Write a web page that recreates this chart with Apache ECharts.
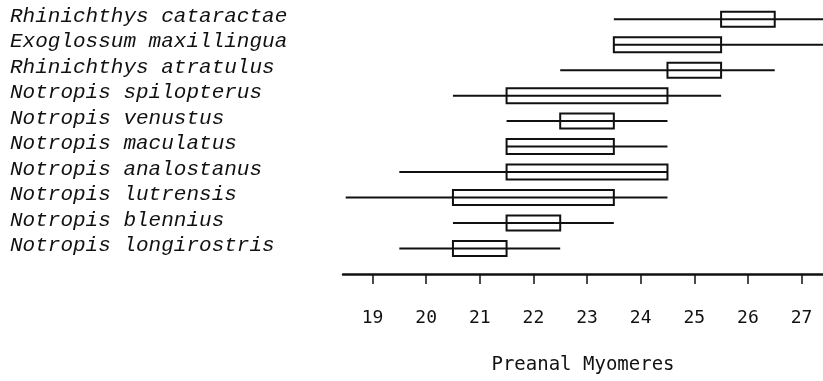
<!DOCTYPE html>
<html>
<head>
<meta charset="utf-8">
<script src="https://cdn.jsdelivr.net/npm/echarts@6/dist/echarts.min.js"></script>
<style>
html,body{margin:0;padding:0;background:#fff;}
#chart{width:823px;height:381px;}
</style>
</head>
<body>
<div id="chart"></div>
<script>
// Species, top to bottom
const species = [
  'Rhinichthys cataractae',
  'Exoglossum maxillingua',
  'Rhinichthys atratulus',
  'Notropis spilopterus',
  'Notropis venustus',
  'Notropis maculatus',
  'Notropis analostanus',
  'Notropis lutrensis',
  'Notropis blennius',
  'Notropis longirostris'
];
const rangeMin = [23.5, 23.5, 22.5, 20.5, 21.5, 21.5, 19.5, 18.5, 20.5, 19.5];
const boxLow   = [25.5, 23.5, 24.5, 21.5, 22.5, 21.5, 21.5, 20.5, 21.5, 20.5];
const boxHigh  = [26.5, 25.5, 25.5, 24.5, 23.5, 23.5, 24.5, 23.5, 22.5, 21.5];
const rangeMax = [28.0, 28.0, 26.5, 25.5, 24.5, 24.5, 24.5, 24.5, 23.5, 22.5];
const tickValues = [19, 20, 21, 22, 23, 24, 25, 26, 27];

// category axis: empty slot at bottom, then species bottom-to-top
const yCats = [''].concat(species.slice().reverse());
const n = species.length;
const seriesData = species.map((s, i) => [n - i, rangeMin[i], boxLow[i], boxHigh[i], rangeMax[i]]);

const chart = echarts.init(document.getElementById('chart'), null, {renderer: 'canvas'});
chart.setOption({
  animation: false,
  grid: {left: 343, right: 0, top: 19.2, bottom: 107, containLabel: false},
  xAxis: {
    type: 'value',
    min: 18.45,
    max: 27.4,
    name: 'Preanal Myomeres',
    nameLocation: 'middle',
    nameGap: 82,
    nameTextStyle: {fontFamily: 'DejaVu Sans Mono', fontSize: 19, color: '#111'},
    axisLine: {show: true, lineStyle: {color: '#111', width: 2.5}},
    axisTick: {show: true, length: 10, lineStyle: {color: '#111', width: 1.5}, customValues: tickValues},
    axisLabel: {customValues: tickValues, margin: 35, fontFamily: 'DejaVu Sans Mono', fontSize: 18, color: '#111'},
    splitLine: {show: false}
  },
  yAxis: {
    type: 'category',
    data: yCats,
    boundaryGap: false,
    axisLine: {show: false},
    axisTick: {show: false},
    splitLine: {show: false},
    axisLabel: {
      interval: 0,
      hideOverlap: false,
      align: 'left',
      verticalAlign: 'bottom',
      lineHeight: 6,
      margin: 333,
      fontFamily: 'Liberation Mono',
      fontStyle: 'italic',
      fontSize: 21,
      color: '#111'
    }
  },
  series: [{
    type: 'custom',
    clip: false,
    data: seriesData,
    encode: {x: [1, 2, 3, 4], y: 0},
    renderItem: function (params, api) {
      const c = api.value(0);
      const pMin = api.coord([api.value(1), c]);
      const pLo = api.coord([api.value(2), c]);
      const pHi = api.coord([api.value(3), c]);
      const pMax = api.coord([api.value(4), c]);
      const h = 15;
      return {
        type: 'group',
        children: [
          {
            type: 'line',
            shape: {x1: pMin[0], y1: pMin[1], x2: pMax[0], y2: pMax[1]},
            style: {stroke: '#111', lineWidth: 2}
          },
          {
            type: 'rect',
            shape: {x: pLo[0], y: pLo[1] - h / 2, width: pHi[0] - pLo[0], height: h},
            style: {fill: 'none', stroke: '#111', lineWidth: 2}
          }
        ]
      };
    }
  }]
});
</script>
</body>
</html>
